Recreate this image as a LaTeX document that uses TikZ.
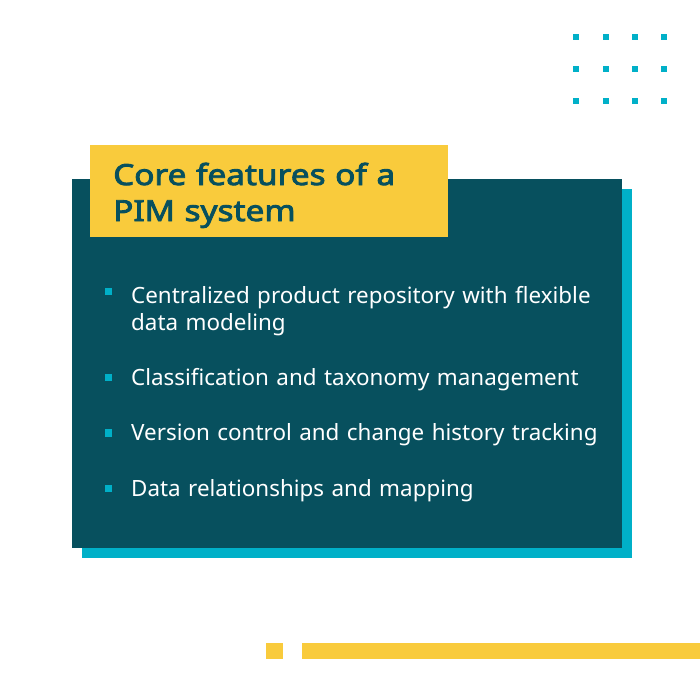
\documentclass[tikz,border=0pt]{standalone}
\usepackage{fontspec}
\setmainfont{Noto Sans}
\newfontfamily\titlefont{Noto Sans}[AutoFakeBold=3,FakeStretch=1.15]
\definecolor{darkteal}{HTML}{07505E}
\definecolor{cyanc}{HTML}{00B0C8}
\definecolor{yellowc}{HTML}{F9CB3C}
\begin{document}
\begin{tikzpicture}[x=1pt,y=-1pt]
\tikzset{
  dotsq/.style={fill=cyanc,draw=none,minimum size=6pt,inner sep=0pt},
  bulletsq/.style={fill=cyanc,draw=none,minimum size=7.5pt,inner sep=0pt},
  itemtext/.style={anchor=base west,inner sep=0pt,text=white,font=\fontsize{22.4}{27}\selectfont,text width=480pt,align=left},
  titletext/.style={anchor=base west,inner sep=0pt,text=darkteal,font=\titlefont\bfseries\fontsize{29}{36}\selectfont,text width=330pt,align=left}
}
\useasboundingbox (0,0) rectangle (700,699);
\fill[white] (0,0) rectangle (700,699);
% dot grid
\foreach \i/\x in {1/576,2/605.5,3/635,4/664}{
  \foreach \j/\y in {1/37,2/69,3/101}{
    \node[dotsq] (d\i\j) at (\x,\y) {};
  }
}
% shadow and main panel
\fill[cyanc] (82,189) rectangle (632,558);
\fill[darkteal] (72,179) rectangle (622,548);
% title box
\fill[yellowc] (90,145) rectangle (448,237);
\node[titletext] (title) at (113,185) {Core features of a\\PIM system};
% bullets
\node[bulletsq] (b1) at (108.5,291.5) {};
\node[itemtext] (t1) at (131,303) {Centralized product repository with flexible\\data modeling};
\node[bulletsq] (b2) at (108.5,377.5) {};
\node[itemtext] (t2) at (131,385) {Classification and taxonomy management};
\node[bulletsq] (b3) at (108.5,433) {};
\node[itemtext] (t3) at (131,440.5) {Version control and change history tracking};
\node[bulletsq] (b4) at (108.5,488.5) {};
\node[itemtext] (t4) at (131,496) {Data relationships and mapping};
% bottom bars
\fill[yellowc] (266,643) rectangle (283,659);
\fill[yellowc] (302,643) rectangle (700,659);
\end{tikzpicture}
\end{document}
